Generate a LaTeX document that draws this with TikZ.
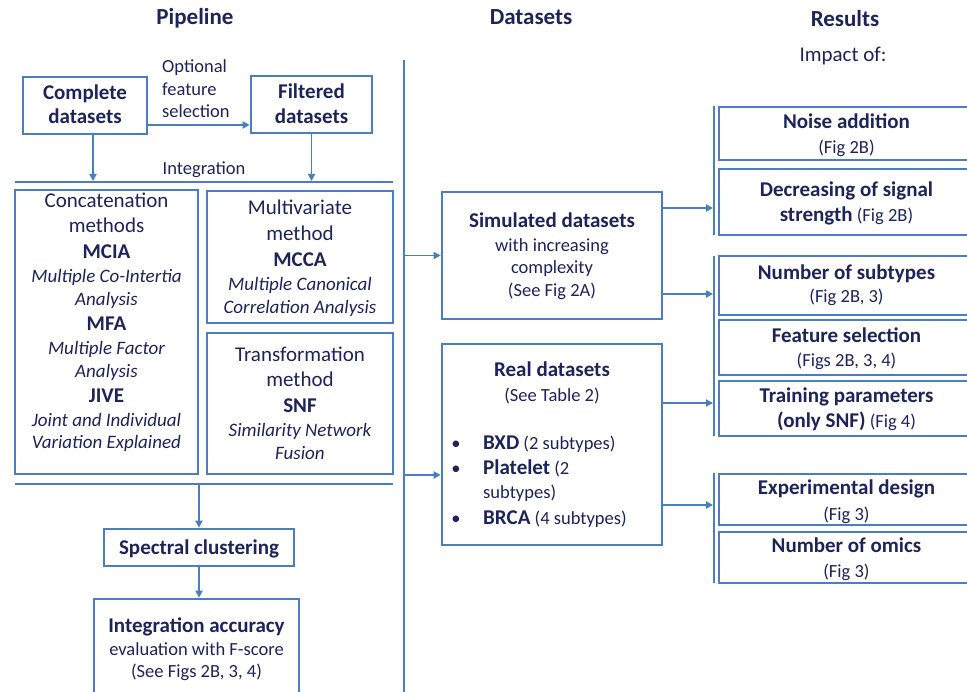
\documentclass[tikz,border=0pt]{standalone}
\usepackage{fontspec}
\setmainfont{Carlito}
\usetikzlibrary{arrows.meta}
\definecolor{lineblue}{RGB}{74,126,190}
\definecolor{navy}{RGB}{30,36,90}
\newcommand\bigsz{\fontsize{21}{25}\selectfont}
\newcommand\smlsz{\fontsize{18.5}{22}\selectfont}
\newcommand\itsz{\fontsize{19}{22}\selectfont}
\tikzset{
  box/.style={draw=lineblue,line width=2.6pt,rectangle,inner sep=0pt},
  lnk/.style={draw=lineblue,line width=2.2pt},
  arr/.style={draw=lineblue,line width=1.8pt,-{Triangle[length=7pt,width=7pt]}},
  tx/.style={anchor=base,inner sep=0pt,text=navy},
  tb/.style={tx,font=\bigsz\bfseries},
  tr/.style={tx,font=\bigsz},
  ts/.style={tx,font=\smlsz},
  ti/.style={tx,font=\itsz\itshape},
  ttl/.style={tx,font=\fontsize{23}{27}\selectfont\bfseries},
}
\begin{document}
\begin{tikzpicture}[x=1pt,y=-1pt]
\clip (0,0) rectangle (967,692);
\fill[white] (0,0) rectangle (967,692);
% titles
\node[ttl] (tpipe) at (195,25) {Pipeline};
\node[ttl] (tdata) at (531,25) {Datasets};
\node[ttl] (tres) at (845,27) {Results};
\node[tr] (timp) at (843,62) {Impact of:};
% main divider
\coordinate (vtop) at (404,60);
\coordinate (vbot) at (404,700);
\draw[lnk] (vtop) -- (vbot);
% pipeline boxes
\node[box,minimum width=124pt,minimum height=57pt] (complete) at (85,105.5) {};
\node[tb] (complete1) at (85,100) {Complete};
\node[tb] (complete2) at (85,124) {datasets};
\node[box,minimum width=121pt,minimum height=57pt] (filtered) at (311.5,104.5) {};
\node[tb] (filtered1) at (311.5,99) {Filtered};
\node[tb] (filtered2) at (311.5,124) {datasets};
\node[ts,anchor=base west] (opt1) at (162,73) {Optional};
\node[ts,anchor=base west] (opt2) at (162,96) {feature};
\node[ts,anchor=base west] (opt3) at (162,118) {selection};
\coordinate (ca) at (0,125);
\draw[arr] (complete.east |- ca) -- (filtered.west |- ca);
% integration line
\coordinate (l1l) at (15,182);
\coordinate (l1r) at (393,182);
\draw[lnk] (l1l) -- (l1r);
\node[ts] (integ) at (204,175) {Integration};
\coordinate (da) at (93,181);
\draw[arr] (complete.south -| da) -- (da);
\draw[arr] (filtered.south) -- (filtered.south |- da);
% concatenation
\node[box,minimum width=183pt,minimum height=284pt] (concat) at (106.5,332) {};
\node[tr] (c1) at (106.5,208) {Concatenation};
\node[tr] (c2) at (106.5,233) {methods};
\node[tb] (c3) at (106.5,259) {MCIA};
\node[ti] (c4) at (106.5,283) {Multiple Co-Intertia};
\node[ti] (c5) at (106.5,306) {Analysis};
\node[tb] (c6) at (106.5,331) {MFA};
\node[ti] (c7) at (106.5,355) {Multiple Factor};
\node[ti] (c8) at (106.5,378) {Analysis};
\node[tb] (c9) at (106.5,403) {JIVE};
\node[ti] (c10) at (106.5,427) {Joint and Individual};
\node[ti] (c11) at (106.5,449) {Variation Explained};
% multivariate
\node[box,minimum width=186pt,minimum height=132pt] (multi) at (300,257) {};
\node[tr] (m1) at (300,215) {Multivariate};
\node[tr] (m2) at (300,241) {method};
\node[tb] (m3) at (300,267) {MCCA};
\node[ti] (m4) at (300,291) {Multiple Canonical};
\node[ti] (m5) at (300,314) {Correlation Analysis};
% transformation
\node[box,minimum width=186pt,minimum height=141pt] (transf) at (300,403.5) {};
\node[tr] (t1) at (300,362) {Transformation};
\node[tr] (t2) at (300,387) {method};
\node[tb] (t3) at (300,413) {SNF};
\node[ti] (t4) at (300,437) {Similarity Network};
\node[ti] (t5) at (300,460) {Fusion};
% lower line
\coordinate (l2l) at (15,484);
\coordinate (l2r) at (393,484);
\draw[lnk] (l2l) -- (l2r);
% spectral
\node[box,minimum width=190pt,minimum height=37pt] (spectral) at (199,547.5) {};
\node[tb] (s1) at (199,554) {Spectral clustering};
\draw[arr] (spectral.north |- l2l) -- (spectral.north);
% accuracy
\node[box,minimum width=205pt,minimum height=101pt] (accuracy) at (196.5,649.5) {};
\node[tb] (a1) at (196.5,632) {Integration accuracy};
\node[ts] (a2) at (196.5,655) {evaluation with F-score};
\node[ts] (a3) at (196.5,677) {(See Figs 2B, 3, 4)};
\draw[arr] (spectral.south) -- (spectral.south |- accuracy.north);
% datasets
\node[box,minimum width=220pt,minimum height=127pt] (sim) at (552,255.5) {};
\node[tb] (sim1) at (552,228) {Simulated datasets};
\node[ts] (sim2) at (552,252) {with increasing};
\node[ts] (sim3) at (552,274) {complexity};
\node[ts] (sim4) at (552,297) {(See Fig 2A)};
\node[box,minimum width=220pt,minimum height=201pt] (real) at (552,444.5) {};
\node[tb] (real1) at (552,377) {Real datasets};
\node[ts] (real2) at (552,402) {(See Table 2)};
\node[ts] (bul1) at (456,450) {\textbullet};
\node[ts] (bul2) at (456,475) {\textbullet};
\node[ts] (bul3) at (456,524) {\textbullet};
\node[ts,anchor=base west] (r1) at (483,450) {{\bigsz\bfseries BXD} (2 subtypes)};
\node[ts,anchor=base west] (r2) at (483,475) {{\bigsz\bfseries Platelet} (2};
\node[ts,anchor=base west] (r3) at (483,499) {subtypes)};
\node[ts,anchor=base west] (r4) at (483,524) {{\bigsz\bfseries BRCA} (4 subtypes)};
\draw[arr] (vtop |- sim.west) -- (sim.west);
\coordinate (va2) at (404,475);
\draw[arr] (va2) -- (real.west |- va2);
% result brackets
\coordinate (g1t) at (714,106);
\coordinate (g1b) at (714,235);
\coordinate (g2t) at (714,256);
\coordinate (g2b) at (714,436);
\coordinate (g3t) at (714,473);
\coordinate (g3b) at (714,583);
\draw[lnk] (g1t) -- (g1b);
\draw[lnk] (g2t) -- (g2b);
\draw[lnk] (g3t) -- (g3b);
\coordinate (e1) at (713,208);
\coordinate (e2) at (713,294);
\coordinate (e3) at (713,403);
\coordinate (e4) at (713,505);
\draw[arr] (sim.east |- e1) -- (e1);
\draw[arr] (sim.east |- e2) -- (e2);
\draw[arr] (real.east |- e3) -- (e3);
\draw[arr] (real.east |- e4) -- (e4);
% result boxes
\node[box,minimum width=255pt,minimum height=53pt] (noise) at (846.5,133.5) {};
\node[tb] (n1) at (846.5,129) {Noise addition};
\node[ts] (n2) at (846.5,154) {(Fig 2B)};
\node[box,minimum width=255pt,minimum height=66pt] (decr) at (846.5,202) {};
\node[tb] (d1) at (846.5,197) {Decreasing of signal};
\node[ts] (d2) at (846.5,222) {{\bigsz\bfseries strength} (Fig 2B)};
\node[box,minimum width=255pt,minimum height=59pt] (nsub) at (846.5,285.5) {};
\node[tb] (ns1) at (846.5,280) {Number of subtypes};
\node[ts] (ns2) at (846.5,303) {(Fig 2B, 3)};
\node[box,minimum width=255pt,minimum height=55pt] (feat) at (846.5,347.5) {};
\node[tb] (f1) at (846.5,343) {Feature selection};
\node[ts] (f2) at (846.5,367) {(Figs 2B, 3, 4)};
\node[box,minimum width=255pt,minimum height=55pt] (train) at (846.5,408.5) {};
\node[tb] (tr1) at (846.5,403) {Training parameters};
\node[ts] (tr2) at (846.5,428) {{\bigsz\bfseries (only SNF)} (Fig 4)};
\node[box,minimum width=255pt,minimum height=51pt] (exper) at (846.5,499.5) {};
\node[tb] (x1) at (846.5,495) {Experimental design};
\node[ts] (x2) at (846.5,520) {(Fig 3)};
\node[box,minimum width=255pt,minimum height=51pt] (omics) at (846.5,557.5) {};
\node[tb] (o1) at (846.5,552) {Number of omics};
\node[ts] (o2) at (846.5,577) {(Fig 3)};
\end{tikzpicture}
\end{document}
